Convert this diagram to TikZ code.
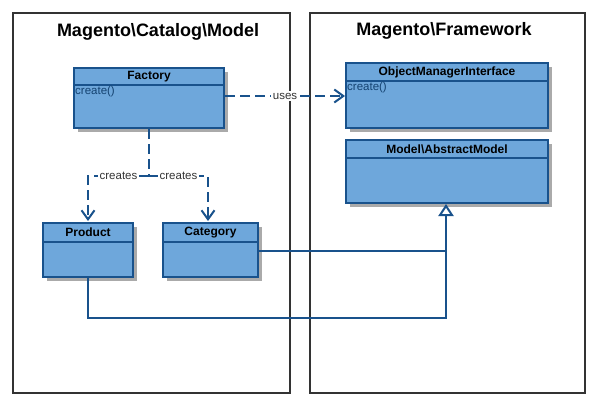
\documentclass[tikz,border=0pt]{standalone}
\usepackage{fontspec}
\setmainfont{Liberation Sans}
\usetikzlibrary{arrows.meta,positioning}
\definecolor{boxfill}{RGB}{110,167,219}
\definecolor{boxline}{RGB}{25,82,140}
\definecolor{shadowc}{RGB}{170,170,170}
\tikzset{
  pkg/.style={draw=black!80,line width=1.8pt},
  ttl/.style={font=\bfseries\fontsize{18}{21}\selectfont},
  cls/.style={draw=boxline,fill=boxfill,line width=2.4pt},
  shd/.style={fill=shadowc,draw=none},
  hdr/.style={font=\bfseries\fontsize{12}{14}\selectfont},
  op/.style={font=\fontsize{11.5}{13}\selectfont,text=boxline!80!black,anchor=north west,inner sep=1pt},
  dep/.style={draw=boxline,line width=2.4pt,dash pattern=on 10pt off 5pt,-{Straight Barb[length=9pt,width=13pt,line width=2pt]}},
  lbl/.style={fill=white,font=\fontsize{11.5}{13}\selectfont,text=black!80,inner sep=1.5pt},
  gen/.style={draw=boxline,line width=2.4pt}
}
\newcommand{\umlbox}[6]{% name, x1,y1,x2,y2, header bottom
  \fill[shd] (#2+4,#3+4) rectangle (#4+4,#5+4);
  \draw[cls] (#2,#3) rectangle (#4,#5);
  \draw[boxline,line width=2.4pt] (#2,#6) -- (#4,#6);
  \coordinate (#1-nw) at (#2,#3);
  \coordinate (#1-hdr) at ({(#2+#4)/2},{(#3+#6)/2});
  \coordinate (#1-op) at (#2,#6);
}
\begin{document}
\begin{tikzpicture}[x=1pt,y=-1pt]
\useasboundingbox (0,0) rectangle (607,417);
\fill[white] (0,0) rectangle (607,417);
% packages
\draw[pkg] (13,13) rectangle (290,393);
\draw[pkg] (310,13) rectangle (585,393);
\node[ttl] (t1) at (158,32) {Magento\textbackslash Catalog\textbackslash Model};
\node[ttl] (t2) at (444,31) {Magento\textbackslash Framework};
% classes
\umlbox{fac}{74}{68}{224}{128}{85}
\node[hdr] (facT) at (fac-hdr) {Factory};
\node[op] (facO) at (fac-op) {create()};
\umlbox{omi}{346}{63}{548}{128}{81}
\node[hdr] (omiT) at (omi-hdr) {ObjectManagerInterface};
\node[op] (omiO) at (omi-op) {create()};
\umlbox{am}{346}{140}{548}{203}{158}
\node[hdr] (amT) at (am-hdr) {Model\textbackslash AbstractModel};
\umlbox{pro}{43}{223}{133}{277}{242}
\node[hdr] (proT) at (pro-hdr) {Product};
\umlbox{cat}{163}{223}{258}{277}{242}
\node[hdr] (catT) at (cat-hdr) {Category};
% anchor coordinates
\coordinate (facR) at (225,96);
\coordinate (omiL) at (345,96);
\coordinate (facB) at (149,129);
\coordinate (split) at (149,176);
\coordinate (proTop) at (88,221);
\coordinate (catTop) at (208,221);
\coordinate (catR) at (259,251);
\coordinate (proB) at (88,278);
\coordinate (amB) at (446,204);
\coordinate (joinA) at (446,251);
% uses
\draw[dep] (facR) -- node[lbl] (uses) {uses} (omiL);
% creates
\draw[boxline,line width=2.4pt,dash pattern=on 10pt off 5pt] (facB) -- (split);
\draw[dep] (split) -- node[lbl,pos=0.5] (cr1) {creates} (proTop|-split) -- (proTop);
\draw[dep] (split) -- node[lbl,pos=0.5] (cr2) {creates} (catTop|-split) -- (catTop);
% generalization
\draw[gen] (catR) -- (joinA);
\draw[gen,-{Triangle[open,length=12pt,width=15pt,line width=2pt,fill=white]}] (proB) -- (88,318) -- (446,318) -- (amB);
\end{tikzpicture}
\end{document}
